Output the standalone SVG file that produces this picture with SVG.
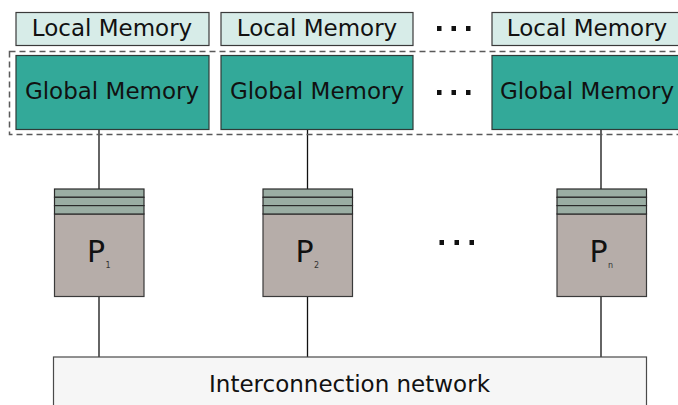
<svg xmlns="http://www.w3.org/2000/svg" width="678" height="405" viewBox="0 0 678 405">
  <style>
    text { font-family: "DejaVu Sans", "Liberation Sans", sans-serif; fill: #111; }
    .lbl { font-size: 23px; text-anchor: middle; }
    .local { fill: #d7ece8; stroke: #3a3a3a; stroke-width: 1.2; }
    .global { fill: #33a999; stroke: #2f3b38; stroke-width: 1.2; }
    .stripe { fill: #9aada3; stroke: #2a2a2a; stroke-width: 1.2; }
    .proc { fill: #b6ada9; stroke: #3a3a3a; stroke-width: 1.2; }
    .net { fill: #f6f6f6; stroke: #4a4a4a; stroke-width: 1.2; }
    .wire { stroke: #111; stroke-width: 1.3; fill: none; }
    .pname { font-size: 30px; }
    .psub { font-size: 8px; fill: #333; }
    .dots { fill: #111; }
  </style>

  <!-- connectors: memory to processor, processor to network -->
  <g id="connectors">
    <line class="wire" x1="99" y1="129" x2="99" y2="189"/>
    <line class="wire" x1="307.5" y1="129" x2="307.5" y2="189"/>
    <line class="wire" x1="601" y1="129" x2="601" y2="189"/>
    <line class="wire" x1="99" y1="297" x2="99" y2="357"/>
    <line class="wire" x1="307.5" y1="297" x2="307.5" y2="357"/>
    <line class="wire" x1="601" y1="297" x2="601" y2="357"/>
  </g>

  <!-- shared global address space -->
  <rect id="global-space" x="9.5" y="51.5" width="680" height="83" fill="none" stroke="#5a5a5a" stroke-width="1.5" stroke-dasharray="6,4"/>

  <g id="local-1">
    <rect class="local" x="16" y="12.5" width="193" height="33"/>
    <text class="lbl" x="112" y="36">Local Memory</text>
  </g>
  <g id="local-2">
    <rect class="local" x="221" y="12.5" width="192" height="33"/>
    <text class="lbl" x="317" y="36">Local Memory</text>
  </g>
  <g id="local-n">
    <rect class="local" x="492" y="12.5" width="193" height="33"/>
    <text class="lbl" x="587" y="36">Local Memory</text>
  </g>

  <g id="global-1">
    <rect class="global" x="16" y="55.5" width="193" height="74"/>
    <text class="lbl" x="112" y="99">Global Memory</text>
  </g>
  <g id="global-2">
    <rect class="global" x="221" y="55.5" width="192" height="74"/>
    <text class="lbl" x="317" y="99">Global Memory</text>
  </g>
  <g id="global-n">
    <rect class="global" x="492" y="55.5" width="193" height="74"/>
    <text class="lbl" x="587" y="99">Global Memory</text>
  </g>

  <!-- ellipses between columns -->
  <g id="ellipses" class="dots">
    <rect x="437" y="26" width="4.5" height="5"/>
    <rect x="451.5" y="26" width="4.5" height="5"/>
    <rect x="466" y="26" width="4.5" height="5"/>
    <rect x="437" y="90" width="4.5" height="5"/>
    <rect x="451.5" y="90" width="4.5" height="5"/>
    <rect x="466" y="90" width="4.5" height="5"/>
    <rect x="439.5" y="240" width="4.5" height="5"/>
    <rect x="454.5" y="240" width="4.5" height="5"/>
    <rect x="469.5" y="240" width="4.5" height="5"/>
  </g>

  <g id="proc-1">
    <rect class="proc" x="54.5" y="214" width="89.5" height="82.5"/>
    <rect class="stripe" x="54.5" y="189" width="89.5" height="8.3"/>
    <rect class="stripe" x="54.5" y="197.3" width="89.5" height="8.3"/>
    <rect class="stripe" x="54.5" y="205.6" width="89.5" height="8.4"/>
    <text class="pname" x="87" y="262">P</text>
    <text class="psub" x="105.5" y="268">1</text>
  </g>
  <g id="proc-2">
    <rect class="proc" x="263" y="214" width="89.5" height="82.5"/>
    <rect class="stripe" x="263" y="189" width="89.5" height="8.3"/>
    <rect class="stripe" x="263" y="197.3" width="89.5" height="8.3"/>
    <rect class="stripe" x="263" y="205.6" width="89.5" height="8.4"/>
    <text class="pname" x="295.5" y="262">P</text>
    <text class="psub" x="314" y="268">2</text>
  </g>
  <g id="proc-n">
    <rect class="proc" x="557" y="214" width="89.5" height="82.5"/>
    <rect class="stripe" x="557" y="189" width="89.5" height="8.3"/>
    <rect class="stripe" x="557" y="197.3" width="89.5" height="8.3"/>
    <rect class="stripe" x="557" y="205.6" width="89.5" height="8.4"/>
    <text class="pname" x="589.5" y="262">P</text>
    <text class="psub" x="608" y="268">n</text>
  </g>

  <g id="network">
    <rect class="net" x="53.5" y="357" width="593" height="60"/>
    <text class="lbl" x="349.5" y="392">Interconnection network</text>
  </g>
</svg>
